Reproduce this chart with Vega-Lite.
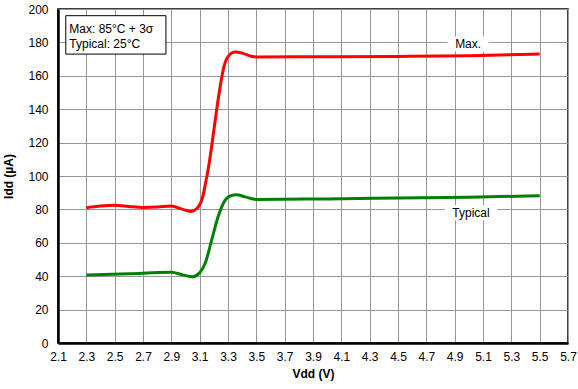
{
  "$schema": "https://vega.github.io/schema/vega-lite/v6.json",
  "width": 510,
  "height": 334,
  "autosize": {"type": "none"},
  "padding": {"left": 58, "top": 9, "right": 10, "bottom": 46},
  "background": "white",
  "config": {
    "font": "Liberation Sans",
    "view": {"stroke": "black", "strokeWidth": 1.5},
    "axis": {
      "grid": true,
      "gridColor": "#969696",
      "gridWidth": 1,
      "ticks": false,
      "tickCount": 40,
      "labelOverlap": false,
      "labelFlush": false,
      "domainColor": "black",
      "domainWidth": 2.5,
      "labelFont": "Liberation Sans",
      "labelFontSize": 12,
      "labelColor": "black",
      "titleFont": "Liberation Sans",
      "titleFontSize": 12,
      "titleFontWeight": "bold",
      "titleColor": "black"
    }
  },
  "datasets": {
    "curves": [
      {"vdd": 2.3, "idd": 81.0, "series": "Max."},
      {"vdd": 2.4, "idd": 82.0, "series": "Max."},
      {"vdd": 2.5, "idd": 82.5, "series": "Max."},
      {"vdd": 2.6, "idd": 81.8, "series": "Max."},
      {"vdd": 2.7, "idd": 81.2, "series": "Max."},
      {"vdd": 2.8, "idd": 81.4, "series": "Max."},
      {"vdd": 2.9, "idd": 82.0, "series": "Max."},
      {"vdd": 2.97, "idd": 80.3, "series": "Max."},
      {"vdd": 3.04, "idd": 78.8, "series": "Max."},
      {"vdd": 3.08, "idd": 80.5, "series": "Max."},
      {"vdd": 3.12, "idd": 87, "series": "Max."},
      {"vdd": 3.14, "idd": 95, "series": "Max."},
      {"vdd": 3.16, "idd": 104, "series": "Max."},
      {"vdd": 3.18, "idd": 115, "series": "Max."},
      {"vdd": 3.21, "idd": 133.5, "series": "Max."},
      {"vdd": 3.24, "idd": 151, "series": "Max."},
      {"vdd": 3.27, "idd": 165, "series": "Max."},
      {"vdd": 3.3, "idd": 171.5, "series": "Max."},
      {"vdd": 3.35, "idd": 174.3, "series": "Max."},
      {"vdd": 3.4, "idd": 173.6, "series": "Max."},
      {"vdd": 3.47, "idd": 171.5, "series": "Max."},
      {"vdd": 3.5, "idd": 171.3, "series": "Max."},
      {"vdd": 4.0, "idd": 171.4, "series": "Max."},
      {"vdd": 4.5, "idd": 171.6, "series": "Max."},
      {"vdd": 5.0, "idd": 172.0, "series": "Max."},
      {"vdd": 5.5, "idd": 173.0, "series": "Max."},
      {"vdd": 2.3, "idd": 40.7, "series": "Typical"},
      {"vdd": 2.6, "idd": 41.5, "series": "Typical"},
      {"vdd": 2.9, "idd": 42.3, "series": "Typical"},
      {"vdd": 2.98, "idd": 40.8, "series": "Typical"},
      {"vdd": 3.05, "idd": 39.6, "series": "Typical"},
      {"vdd": 3.1, "idd": 42.0, "series": "Typical"},
      {"vdd": 3.14, "idd": 48, "series": "Typical"},
      {"vdd": 3.185, "idd": 61.7, "series": "Typical"},
      {"vdd": 3.23, "idd": 75.6, "series": "Typical"},
      {"vdd": 3.28, "idd": 85.6, "series": "Typical"},
      {"vdd": 3.32, "idd": 88.2, "series": "Typical"},
      {"vdd": 3.36, "idd": 88.7, "series": "Typical"},
      {"vdd": 3.42, "idd": 87.5, "series": "Typical"},
      {"vdd": 3.5, "idd": 86.0, "series": "Typical"},
      {"vdd": 4.0, "idd": 86.3, "series": "Typical"},
      {"vdd": 4.5, "idd": 86.8, "series": "Typical"},
      {"vdd": 5.0, "idd": 87.3, "series": "Typical"},
      {"vdd": 5.5, "idd": 88.2, "series": "Typical"}
    ],
    "labels": [
      {"x": 4.85, "x2": 5.14, "y": 183.5, "y2": 174.5, "lx": 4.995, "ly": 179, "text": "Max."},
      {"x": 4.83, "x2": 5.2, "y": 82.5, "y2": 73.5, "lx": 5.015, "ly": 78, "text": "Typical"}
    ],
    "box": [
      {"x": 2.155, "x2": 2.862, "y": 196, "y2": 173}
    ],
    "boxtext": [
      {"x": 2.18, "y": 188.2, "text": "Max: 85°C + 3σ"},
      {"x": 2.18, "y": 179.2, "text": "Typical: 25°C"}
    ]
  },
  "layer": [
    {
      "data": {"name": "labels"},
      "mark": {"type": "rect", "fill": "white"},
      "encoding": {
        "x": {"field": "x", "type": "quantitative", "scale": {"domain": [2.1, 5.7], "nice": false, "zero": false},
          "axis": {"title": "Vdd (V)", "values": [2.1, 2.3, 2.5, 2.7, 2.9, 3.1, 3.3, 3.5, 3.7, 3.9, 4.1, 4.3, 4.5, 4.7, 4.9, 5.1, 5.3, 5.5, 5.7], "tickCount": 40, "format": ".1f", "labelPadding": 8, "titlePadding": 6}},
        "x2": {"field": "x2"},
        "y": {"field": "y", "type": "quantitative", "scale": {"domain": [0, 200], "nice": false},
          "axis": {"title": "Idd (µA)", "values": [0, 20, 40, 60, 80, 100, 120, 140, 160, 180, 200], "tickCount": 40, "labelPadding": 10, "titlePadding": 12}},
        "y2": {"field": "y2"}
      }
    },
    {
      "data": {"name": "curves"},
      "mark": {"type": "line", "interpolate": "monotone", "strokeWidth": 3},
      "encoding": {
        "x": {"field": "vdd", "type": "quantitative"},
        "y": {"field": "idd", "type": "quantitative"},
        "color": {"field": "series", "type": "nominal", "scale": {"domain": ["Max.", "Typical"], "range": ["#ff0000", "#008000"]}, "legend": null}
      }
    },
    {
      "data": {"name": "labels"},
      "mark": {"type": "text", "fontSize": 12, "font": "Liberation Sans", "color": "black", "align": "center", "baseline": "middle"},
      "encoding": {
        "x": {"field": "lx", "type": "quantitative"},
        "y": {"field": "ly", "type": "quantitative"},
        "text": {"field": "text"}
      }
    },
    {
      "data": {"name": "box"},
      "mark": {"type": "rect", "fill": "white", "stroke": "black", "strokeWidth": 1},
      "encoding": {
        "x": {"field": "x", "type": "quantitative"},
        "x2": {"field": "x2"},
        "y": {"field": "y", "type": "quantitative"},
        "y2": {"field": "y2"}
      }
    },
    {
      "data": {"name": "boxtext"},
      "mark": {"type": "text", "fontSize": 12, "font": "Liberation Sans", "color": "black", "align": "left", "baseline": "middle"},
      "encoding": {
        "x": {"field": "x", "type": "quantitative"},
        "y": {"field": "y", "type": "quantitative"},
        "text": {"field": "text"}
      }
    }
  ]
}
